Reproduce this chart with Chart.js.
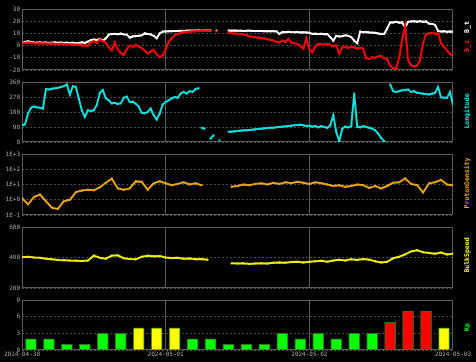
<!DOCTYPE html>
<html>
<head>
<meta charset="utf-8">
<script src="https://cdn.jsdelivr.net/npm/chart.js@4/dist/chart.umd.min.js"></script>
<style>
  body { margin: 0; background: #000; }
  #wrap { position: relative; width: 476px; height: 362px; background: #000; overflow: hidden; }
  #wrap canvas { position: absolute; left: 0; }
  .ttl {
    position: absolute;
    font: bold 6.5px "DejaVu Sans Mono", monospace;
    white-space: nowrap;
    transform: translate(-50%, -50%) rotate(-90deg);
  }
</style>
</head>
<body>
<div id="wrap">
  <canvas id="cB"></canvas>
  <canvas id="cLon"></canvas>
  <canvas id="cDen"></canvas>
  <canvas id="cSpd"></canvas>
  <canvas id="cKp"></canvas>
  <span class="ttl" style="left:467px;top:27px;color:#ffffff">B_t</span>
  <span class="ttl" style="left:467px;top:46px;color:#ff2020">B_z</span>
  <span class="ttl" style="left:467px;top:111px;color:#20e0e0">Longitude</span>
  <span class="ttl" style="left:467px;top:183px;color:#e8a317">ProtonDensity</span>
  <span class="ttl" style="left:467px;top:255px;color:#f0f000">BulkSpeed</span>
  <span class="ttl" style="left:467px;top:327px;color:#00ff00">Kp</span>
</div>
<script>
// time axis: hours since 2024-04-30 00:00
const dateLabels = ["2024-04-30", "2024-05-01", "2024-05-02", "2024-05-03"];

// half-hour samples
const bT = [
  2, 3, 3.5, 3, 2.5, 2.4, 2.6, 2.3, 2.5, 2.2,
  2.4, 2.6, 2.3, 2.5, 2.2, 2.4, 2.1, 2.3, 2.0, 2.2,
  2.7, 2.2, 3.2, 4.5, 5, 4.6, 5.5, 4, 6, 9,
  9.5, 9.6, 9.4, 9.8, 9.2, 9, 6.5, 7.5, 7.8, 8,
  8.5, 10, 9.5, 9.2, 8, 6, 10, 11.5, 11.6, 11.7,
  11.8, 11.9, 12, 12.1, 12, 12.2, 12.3, 12.2, 12.3, 12.4,
  12.2, 12.3, 12.4, 12.3, null, 12.3, null, null, null, 12.3,
  12.2, 12.3, 12.1, 12.2, 12, 12.1, 12.2, 12, 11.9, 12,
  11.9, 11.8, 11.9, 11.7, 11.8, 11.7, 9.5, 11.2, 11, 11.3,
  11.1, 11, 11.2, 10.8, 11, 10.8, 10.5, 9.6, 9.8, 9.5,
  9.7, 9.4, 9.5, 7, 4, 8, 7.5, 7.7, 8.5, 8,
  7, 4, 2, 11.5, 11, 11.2, 10.8, 10.6, 10.5, 10,
  9.6, 9.6, 14, 19, 19, 19.5, 18.8, 19, 15, 19.5,
  19.8, 20, 19.6, 20, 19.5, 19.8, 18, 17.8, 17, 12,
  11.5, 11.8, 11.3, 11.6, 11.4
];
const bZ = [
  2, 2.2, 2.5, 2.3, 2, 1.8, 2, 1.7, 1.9, 1.6,
  1.8, 1.5, 1.4, 1.6, 1.3, 1.2, 1.1, 1.0, 0.9, 0.8,
  0, 0.2, -0.3, 2.7, 3.5, 2.2, 5, 3.5, 2.5, -1.5,
  -4, 2.5, -3, -6, -7.5, -3, 0, -1, 0.5, -0.8,
  -2, -4, -6.5, -5, -3.5, -7, -9.5, -8, -3, 3,
  6, 8.5, 9.5, 10.5, 11, 11.2, 11.5, 11.6, 11.8, 12,
  12.1, 12, 12.2, 12.1, null, 11.5, null, null, null, 10.5,
  10.2, 10, 9.7, 9.6, 9.2, 8.5, 7.6, 7.2, 6.8, 6.5,
  6.2, 5.8, 5.2, 4.8, 4, 3, 2.5, 4, 3, 5.5,
  2.5, 2, 1.2, -0.5, -2.5, 6, -3, -5.5, -1, 1.5,
  1.2, 0.8, 1.5, 0.5, -0.5, 0.3, -6.8, -1.5, -1, -2,
  -0.8, -1.5, -2.5, -1.8, -2.5, -10.5, -11, -9.5, -10, -9,
  -8.5, -10.5, -11, -16.5, -18.5, -19, -10, 5, 16, -12,
  -16, -17, -16.5, -12, 2, 9.6, 10, 10.5, 9.8, 10,
  2, -1, -4, -7, -8
];
const longitude = [
  100, 105, 170, 205, 212, 208, 205, 200, 318, 315,
  320, 322, 325, 330, 335, 345, 285, 335, 330, 260,
  190, 150, 190, 186, 190, 222, 295, 312, 262, 250,
  232, 235, 228, 232, 265, 272, 240, 242, 230, 212,
  175, 172, 180, 200, 160, 135, 170, 225, 240, 250,
  262, 270, 265, 290, 300, 290, 305, 300, 318, 322,
  85, 80, null, 20, 40, null, 10, null, null, 62,
  62, 64, 66, 68, 70, 70, 72, 74, 76, 78,
  80, 82, 84, 86, 86, 88, 90, 92, 94, 96,
  98, 100, 102, 104, 100, 96, 98, 92, 96, 88,
  95, 90, 85, 100, 160, 60, 5, 80, 92, 88,
  95, 290, 92, 88, 95, 90, 85, 80, 70, 50,
  25, 5, null, 345, 305, 300, 305, 310, 312, 315,
  300, 305, 295, 292, 290, 288, 285, 290, 295, 330,
  268, 266, 265, 300, 222
];

// hourly samples
const density = [
  1.3, 0.5, 1.5, 2.2, 0.8, 0.3, 0.25, 0.8, 1.0, 3.2,
  4.0, 4.5, 4.2, 6.5, 13, 24, 5.5, 4.5, 5.5, 16,
  15, 4.5, 12, 16, 12, 9, 11, 14, 10, 12,
  9, null, null, null, null, 7, 8, 10, 9, 11,
  12, 10, 13, 11, 14, 12, 15, 13, 11, 14,
  12, 10, 8, 9, 7, 8, 10, 9, 6, 8,
  5.5, 8, 13, 14, 25, 11, 9, 3, 12, 14,
  20, 10, 9
];
const speed = [
  402, 405, 400, 398, 392, 388, 384, 382, 380, 379,
  377, 380, 412, 398, 392, 412, 414, 395, 390, 388,
  405, 412, 408, 410, 400, 396, 398, 392, 394, 388,
  390, 385, null, null, null, 362, 360, 362, 358, 360,
  362, 360, 365, 368, 366, 370, 372, 368, 372, 375,
  378, 372, 380, 385, 380, 388, 384, 390, 386, 375,
  368, 372, 395, 405, 420, 440, 448, 435, 430, 425,
  432, 420, 425
];

// 3-hour Kp
const kp = [2, 2, 1, 1, 3, 3, 4, 4, 4, 2, 2, 1, 1, 1, 3, 2, 3, 2, 3, 3, 5, 7, 7, 4];

Chart.defaults.font.family = "'DejaVu Sans Mono', monospace";
Chart.defaults.font.size = 6;
Chart.defaults.color = "#a8a8a8";
Chart.defaults.animation = false;

const boxPlugin = {
  id: "box",
  beforeDatasetsDraw(chart) {
    const a = chart.chartArea;
    const ctx = chart.ctx;
    ctx.save();
    ctx.strokeStyle = "#5c5c5c";
    ctx.lineWidth = 1;
    ctx.strokeRect(a.left + 0.5, a.top + 0.5, a.right - a.left - 1, a.bottom - a.top - 1);
    ctx.restore();
  },
};

function place(id, top, height) {
  const c = document.getElementById(id);
  c.width = 476;
  c.height = height;
  c.style.top = top + "px";
  c.style.width = "476px";
  c.style.height = height + "px";
  return c;
}

function series(values, step) {
  return values.map((v, i) => ({ x: i * step, y: v }));
}

function xAxis(showLabels) {
  return {
    type: "linear",
    min: 0,
    max: 72,
    offset: false,
    ticks: {
      display: showLabels,
      stepSize: 24,
      maxRotation: 0,
      autoSkip: false,
      padding: 1,
      color: "#a8a8a8",
      callback: (v) => dateLabels[v / 24],
    },
    grid: {
      offset: false,
      drawTicks: false,
      color: (c) => (c.tick && (c.tick.value === 24 || c.tick.value === 48) ? "#5c5c5c" : "rgba(0,0,0,0)"),
    },
    border: { display: false },
    afterFit: (s) => { s.height = showLabels ? 12 : 0; },
  };
}

function yAxis(extra) {
  return Object.assign({
    ticks: { padding: 2, autoSkip: false },
    grid: { drawTicks: false, color: "#4a4a4a" },
    border: { display: false, dash: [2, 2] },
    afterFit: (s) => { s.width = 22; },
  }, extra);
}

function lineSet(values, step, color, extra) {
  return Object.assign({
    data: series(values, step),
    borderColor: color,
    backgroundColor: color,
    borderWidth: 2,
    pointRadius: 1.1,
    pointBorderWidth: 0,
    spanGaps: false,
  }, extra);
}

function baseOptions(bottomPad, scales) {
  return {
    responsive: false,
    animation: false,
    events: [],
    layout: { padding: { left: 0, right: 23, top: 8, bottom: bottomPad } },
    plugins: { legend: { display: false }, tooltip: { enabled: false } },
    scales: scales,
  };
}

// B panel
new Chart(place("cB", 1, 77), {
  type: "line",
  data: {
    datasets: [
      lineSet(bZ, 0.5, "#ff0000"),
      lineSet(bT, 0.5, "#ffffff"),
    ],
  },
  options: baseOptions(8, {
    x: xAxis(false),
    y: yAxis({ min: -20, max: 30, ticks: { padding: 2, stepSize: 10 } }),
  }),
  plugins: [boxPlugin],
});

// Longitude panel
new Chart(place("cLon", 74, 76), {
  type: "line",
  data: {
    datasets: [
      lineSet(longitude, 0.5, "#10e0e0", {
        segment: {
          borderColor: (c) => (Math.abs(c.p1.parsed.y - c.p0.parsed.y) > 200 ? "rgba(0,0,0,0)" : undefined),
        },
      }),
    ],
  },
  options: baseOptions(8, {
    x: xAxis(false),
    y: yAxis({ min: 0, max: 360, ticks: { padding: 2, stepSize: 90 } }),
  }),
  plugins: [boxPlugin],
});

// Proton density panel (log)
new Chart(place("cDen", 146, 77), {
  type: "line",
  data: { datasets: [lineSet(density, 1, "#e8a317")] },
  options: baseOptions(8, {
    x: xAxis(false),
    y: yAxis({
      type: "logarithmic",
      min: 0.1,
      max: 1000,
      afterBuildTicks: (s) => { s.ticks = [0.1, 1, 10, 100, 1000].map((v) => ({ value: v })); },
      ticks: {
        padding: 2,
        callback: (v) => {
          const e = Math.round(Math.log10(v));
          return "1E" + (e < 0 ? "-" : "+") + Math.abs(e);
        },
      },
    }),
  }),
  plugins: [boxPlugin],
});

// Bulk speed panel
new Chart(place("cSpd", 219, 77), {
  type: "line",
  data: { datasets: [lineSet(speed, 1, "#f0f000")] },
  options: baseOptions(8, {
    x: xAxis(false),
    y: yAxis({ min: 200, max: 600, ticks: { padding: 2, stepSize: 200 } }),
  }),
  plugins: [boxPlugin],
});

// Kp panel
new Chart(place("cKp", 292, 70), {
  type: "bar",
  data: {
    datasets: [{
      data: kp.map((v, i) => ({ x: 1.5 + i * 3, y: v })),
      backgroundColor: kp.map((v) => (v >= 5 ? "#ff0000" : v >= 4 ? "#ffff00" : "#00ff00")),
      borderColor: "#2f7a10",
      borderWidth: 1,
      barThickness: 11,
    }],
  },
  options: baseOptions(0, {
    x: xAxis(true),
    y: yAxis({ min: 0, max: 9, ticks: { padding: 2, stepSize: 3 } }),
  }),
  plugins: [boxPlugin],
});
</script>
</body>
</html>
